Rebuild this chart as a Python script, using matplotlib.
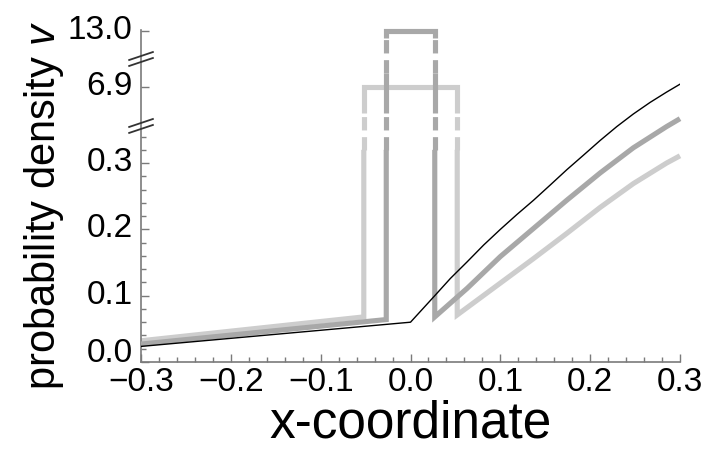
import matplotlib
matplotlib.use("Agg")
import matplotlib.pyplot as plt
import matplotlib.transforms as mtransforms
import numpy as np

plt.rcParams['font.family'] = ['Liberation Sans', 'DejaVu Sans']
plt.rcParams['mathtext.fontset'] = 'custom'
plt.rcParams['mathtext.rm'] = 'Liberation Sans'
plt.rcParams['mathtext.it'] = 'Liberation Sans:italic'

# ---------------- data ----------------
# black thin curve
black_x = [-0.3, 0.0, 0.026, 0.0444, 0.063, 0.0815, 0.1, 0.1185, 0.137, 0.1556, 0.174,
           0.1926, 0.211, 0.2296, 0.248, 0.2667, 0.285, 0.3]
black_y = [0.0235, 0.060, 0.0985, 0.126, 0.151, 0.1765, 0.200, 0.2225, 0.244, 0.267, 0.290,
           0.312, 0.334, 0.355, 0.374, 0.3915, 0.407, 0.419]

# dark gray curve (narrow spike, half-width 0.027)
dark_left_x = [-0.3, -0.027]
dark_left_y = [0.027, 0.064]
dark_right_x = [0.027, 0.063, 0.1, 0.137, 0.174, 0.211, 0.248, 0.285, 0.3]
dark_right_y = [0.068, 0.111, 0.159, 0.2015, 0.244, 0.285, 0.323, 0.355, 0.367]
dark_half_width = 0.027

# light gray curve (wide spike, half-width 0.052)
light_left_x = [-0.3, -0.052]
light_left_y = [0.032, 0.068]
light_right_x = [0.052, 0.1, 0.137, 0.174, 0.211, 0.248, 0.285, 0.3]
light_right_y = [0.071, 0.119, 0.156, 0.194, 0.233, 0.269, 0.300, 0.311]
light_half_width = 0.052

# broken y-axis: spike heights and where they sit on the broken axis
spike_labels = ["6.9", "13.0"]
spike_axis_pos = [0.415, 0.499]
break_pos = [0.356, 0.457]

x_ticks = [-0.3, -0.2, -0.1, 0.0, 0.1, 0.2, 0.3]
y_ticks = [0.0, 0.1, 0.2, 0.3]

# ---------------- styling ----------------
DARK = '#a8a8a8'
LIGHT = '#cdcdcd'
AXC = '#7a7a7a'
LW = 3.7

fig = plt.figure(figsize=(7.13, 4.62), dpi=100)
ax = fig.add_axes([0.1978, 0.2165, 0.7559, 0.7175])


def spike_path(ax, left_x, left_y, right_x, right_y, hw, top, color, z, extra_dash=None):
    kw = dict(color=color, lw=LW, solid_capstyle='butt', solid_joinstyle='miter',
              dash_capstyle='butt', zorder=z, clip_on=False)
    ax.plot(left_x + [-hw, -hw], left_y + [left_y[-1], 0.32], **kw)
    ax.plot([hw, hw] + right_x, [0.32, right_y[0]] + right_y, **kw)
    for sx in (-hw, hw):
        ax.plot([sx, sx], [0.32, 0.376], dashes=(2.6, 1.3), **kw)
    if extra_dash is None:
        ax.plot([-hw, -hw, hw, hw], [0.376, top, top, 0.376], **kw)
    else:
        lo, hi = extra_dash
        for sx in (-hw, hw):
            ax.plot([sx, sx], [0.376, lo], **kw)
            ax.plot([sx, sx], [lo, hi], dashes=(2.6, 1.3), **kw)
        ax.plot([-hw, -hw, hw, hw], [hi, top, top, hi], **kw)


spike_path(ax, light_left_x, light_left_y, light_right_x, light_right_y,
           light_half_width, spike_axis_pos[0], LIGHT, 2)
spike_path(ax, dark_left_x, dark_left_y, dark_right_x, dark_right_y,
           dark_half_width, spike_axis_pos[1], DARK, 3, extra_dash=(0.436, 0.489))

ax.plot(black_x, black_y, color='black', lw=1.0, zorder=4)

ax.set_xlim(-0.3, 0.3)
ax.set_ylim(0, 0.5)

for s in ('top', 'right'):
    ax.spines[s].set_visible(False)
for s in ('left', 'bottom'):
    ax.spines[s].set_color(AXC)
    ax.spines[s].set_linewidth(1.2)

ax.set_xticks(x_ticks)
ax.set_xticklabels([f"{v:.1f}".replace('-', '\u2212') if abs(v) > 1e-9 else "0.0" for v in x_ticks])
ax.set_xticks(np.arange(-0.3, 0.3001, 0.02), minor=True)
ax.set_yticks(y_ticks + spike_axis_pos)
ax.set_yticklabels([f"{v:.1f}" for v in y_ticks] + spike_labels)
ax.set_yticks(np.arange(0.02, 0.345, 0.02), minor=True)

ax.tick_params(axis='both', which='major', direction='in', length=6, width=1.0,
               color=AXC, labelsize=24)
ax.tick_params(axis='x', which='major', pad=3.5)
ax.tick_params(axis='y', which='major', pad=6)
ax.tick_params(axis='both', which='minor', direction='in', length=3.5, width=1.0,
               color=AXC)

# nudge y tick labels slightly upward (as in the reference)
for i, lab in enumerate(ax.get_yticklabels()):
    dy = 12 if i == 0 else 4
    lab.set_transform(lab.get_transform() +
                      mtransforms.ScaledTranslation(0, dy / 100, fig.dpi_scale_trans))

# break marks on the y axis
tr = ax.get_yaxis_transform()
for yb in break_pos:
    for off in (-0.0045, 0.0045):
        ax.plot([-0.022, 0.022], [yb + off - 0.006, yb + off + 0.006], color='#333333',
                lw=1.3, transform=tr, clip_on=False, zorder=6)

ax.set_xlabel('x-coordinate', fontsize=37, labelpad=1)
ax.set_ylabel('probability density $v$', fontsize=30)
ax.yaxis.set_label_coords(-0.139, 0.4736)

fig.savefig('out.png', dpi=100)
